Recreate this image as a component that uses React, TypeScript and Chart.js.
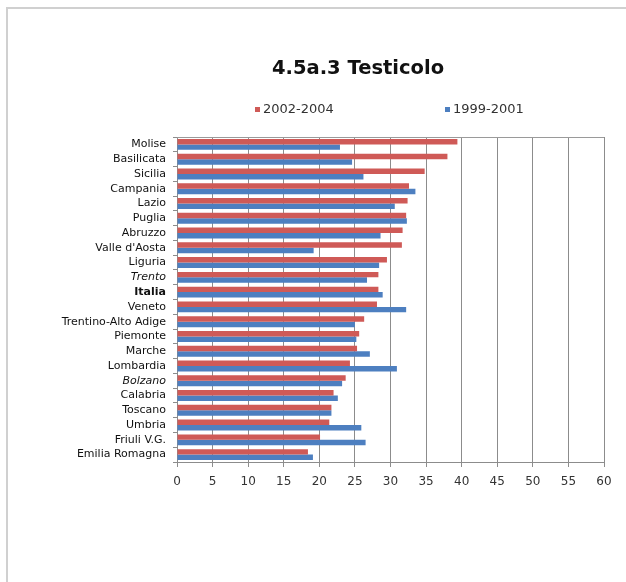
import React, { useEffect, useRef } from "react";
import { Chart, registerables } from "chart.js";

Chart.register(...registerables);

const regions = [
  "Molise",
  "Basilicata",
  "Sicilia",
  "Campania",
  "Lazio",
  "Puglia",
  "Abruzzo",
  "Valle d'Aosta",
  "Liguria",
  "Trento",
  "Italia",
  "Veneto",
  "Trentino-Alto Adige",
  "Piemonte",
  "Marche",
  "Lombardia",
  "Bolzano",
  "Calabria",
  "Toscano",
  "Umbria",
  "Friuli V.G.",
  "Emilia Romagna",
];

const series2002_2004 = [
  39.4, 38.0, 34.8, 32.6, 32.4, 32.2, 31.7, 31.6, 29.5, 28.3, 28.3, 28.1,
  26.3, 25.6, 25.3, 24.3, 23.7, 22.0, 21.7, 21.4, 20.1, 18.4,
];

const series1999_2001 = [
  22.9, 24.6, 26.2, 33.5, 30.6, 32.3, 28.6, 19.2, 28.4, 26.7, 28.9, 32.2,
  25.0, 25.2, 27.1, 30.9, 23.2, 22.6, 21.7, 25.9, 26.5, 19.1,
];

const seriesNames = ["2002-2004", "1999-2001"];
const seriesColors = ["#cf5a57", "#4d7fc0"];
const chartTitle = "4.5a.3 Testicolo";
const xMin = 0;
const xMax = 60;
const xStep = 5;

const FONT = "'DejaVu Sans', Verdana, sans-serif";

const decorPlugin = {
  id: "decor",
  beforeDraw(chart: any) {
    const ctx = chart.ctx;
    ctx.save();
    ctx.fillStyle = "#ffffff";
    ctx.fillRect(0, 0, chart.width, chart.height);
    ctx.strokeStyle = "#d0d0d0";
    ctx.lineWidth = 2;
    ctx.beginPath();
    ctx.moveTo(7, chart.height);
    ctx.lineTo(7, 8);
    ctx.lineTo(chart.width, 8);
    ctx.stroke();
    ctx.restore();
  },
  afterDraw(chart: any) {
    const ctx = chart.ctx;
    const area = chart.chartArea;
    ctx.save();
    ctx.strokeStyle = "#9a9a9a";
    ctx.lineWidth = 1;
    ctx.beginPath();
    ctx.moveTo(area.left, Math.round(area.top) + 0.5);
    ctx.lineTo(area.right, Math.round(area.top) + 0.5);
    ctx.stroke();

    ctx.fillStyle = "#111111";
    ctx.font = `bold 19.5px ${FONT}`;
    ctx.textAlign = "center";
    ctx.textBaseline = "middle";
    ctx.fillText(chartTitle, 358, 69);

    ctx.font = `13px ${FONT}`;
    ctx.textAlign = "left";
    const legendX = [255, 445];
    seriesNames.forEach((name, i) => {
      ctx.fillStyle = seriesColors[i];
      ctx.fillRect(legendX[i], 107, 5, 5);
      ctx.fillStyle = "#333333";
      ctx.fillText(name, legendX[i] + 8, 110);
    });
    ctx.restore();
  },
};

export default function App() {
  const canvasRef = useRef<HTMLCanvasElement | null>(null);

  useEffect(() => {
    if (!canvasRef.current) return;
    const chart = new Chart(canvasRef.current, {
      type: "bar",
      data: {
        labels: regions,
        datasets: [
          {
            label: seriesNames[0],
            data: series2002_2004,
            backgroundColor: seriesColors[0],
            borderWidth: 0,
            categoryPercentage: 0.74,
            barPercentage: 1.0,
          },
          {
            label: seriesNames[1],
            data: series1999_2001,
            backgroundColor: seriesColors[1],
            borderWidth: 0,
            categoryPercentage: 0.74,
            barPercentage: 1.0,
          },
        ],
      },
      options: {
        indexAxis: "y",
        animation: false,
        responsive: true,
        maintainAspectRatio: false,
        layout: {
          padding: { top: 137, bottom: 90, right: 22, left: 0 },
        },
        plugins: {
          legend: { display: false },
          title: { display: false },
          tooltip: { enabled: false },
        },
        scales: {
          x: {
            min: xMin,
            max: xMax,
            ticks: {
              stepSize: xStep,
              color: "#333333",
              padding: 8,
              font: { family: FONT, size: 12 },
            },
            grid: {
              color: "#8c8c8c",
              lineWidth: 1,
              drawTicks: true,
              tickLength: 5,
            },
            border: { color: "#8c8c8c" },
            afterFit: (scale: any) => {
              scale.height = 30;
            },
          },
          y: {
            ticks: {
              color: "#111111",
              padding: 7,
              autoSkip: false,
              font: (ctx: any) => {
                const label = regions[ctx.index];
                return {
                  family: FONT,
                  size: 11,
                  weight: label === "Italia" ? "bold" : "normal",
                  style: label === "Trento" || label === "Bolzano" ? "italic" : "normal",
                };
              },
            },
            grid: {
              drawOnChartArea: false,
              drawTicks: true,
              tickLength: 4,
              color: "#8c8c8c",
              offset: true,
            },
            border: { color: "#8c8c8c" },
            afterFit: (scale: any) => {
              scale.width = 177;
            },
          },
        },
      },
      plugins: [decorPlugin],
    });
    return () => chart.destroy();
  }, []);

  return (
    <div
      style={{
        position: "absolute",
        left: 0,
        top: 0,
        width: 626,
        height: 582,
        background: "#ffffff",
      }}
    >
      <canvas ref={canvasRef} />
    </div>
  );
}
